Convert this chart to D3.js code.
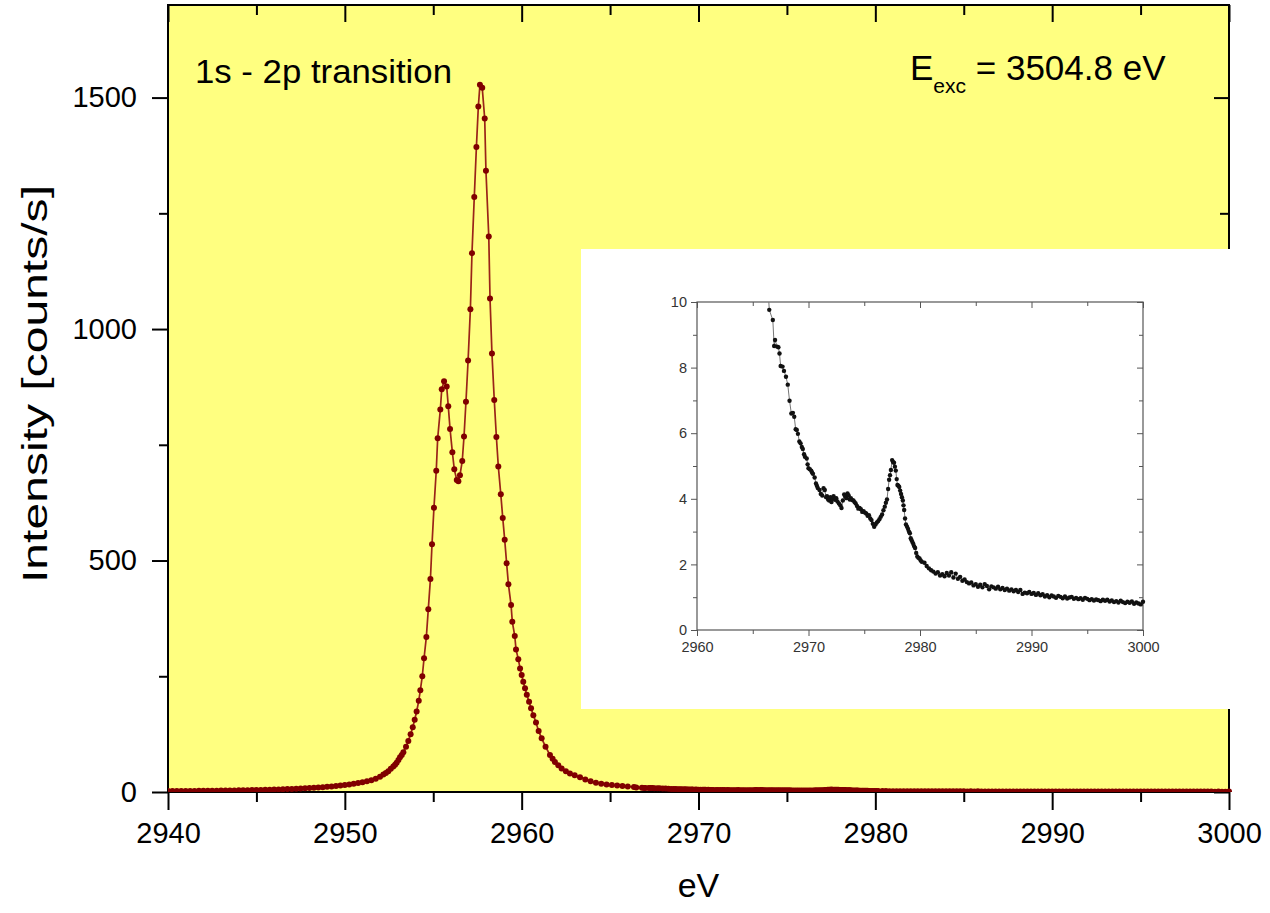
<!DOCTYPE html>
<html><head><meta charset="utf-8">
<script src="https://cdn.jsdelivr.net/npm/d3@7"></script>
<style>
body{margin:0;background:#fff}
svg{display:block}
text{font-family:"Liberation Sans",Arial,Helvetica,sans-serif}
</style></head><body>
<svg id="chart" width="1270" height="913"></svg>
<script>
// ---------- data ----------
const energy = [
2940.00,2940.25,2940.50,2940.75,2941.00,2941.25,2941.50,2941.75,2942.00,2942.25,2942.50,2942.75,
2943.00,2943.25,2943.50,2943.75,2944.00,2944.25,2944.50,2944.75,2945.00,2945.25,2945.50,2945.75,
2946.00,2946.25,2946.50,2946.75,2947.00,2947.25,2947.50,2947.75,2948.00,2948.25,2948.50,2948.75,
2949.00,2949.25,2949.50,2949.75,2950.00,2950.25,2950.50,2950.75,2951.00,2951.25,2951.50,2951.75,
2951.99,2952.18,2952.32,2952.46,2952.60,2952.74,2952.84,2952.93,2953.03,2953.12,2953.22,2953.31,
2953.46,2953.59,2953.72,2953.84,2953.95,2954.06,2954.18,2954.27,2954.38,2954.48,2954.61,2954.72,
2954.84,2954.93,2955.04,2955.17,2955.25,2955.40,2955.48,2955.61,2955.76,2955.85,2955.95,2956.08,
2956.19,2956.33,2956.42,2956.51,2956.64,2956.74,2956.85,2956.97,2957.10,2957.19,2957.32,2957.44,
2957.55,2957.64,2957.77,2957.91,2957.98,2958.14,2958.21,2958.32,2958.45,2958.57,2958.68,2958.82,
2958.93,2959.04,2959.15,2959.25,2959.40,2959.47,2959.61,2959.68,2959.81,2959.91,2960.00,2960.09,
2960.19,2960.29,2960.42,2960.53,2960.66,2960.81,2960.96,2961.13,2961.35,2961.60,2961.75,2961.88,
2962.07,2962.26,2962.50,2962.73,2963.00,2963.30,2963.60,2963.90,2964.20,2964.50,2964.80,2965.10,
2965.40,2965.70,2966.00,2966.35,
2966.48,2966.80,2966.92,2967.00,2967.19,2967.30,2967.40,2967.50,2967.67,2967.80,2967.98,2968.14,
2968.30,2968.46,2968.60,2968.72,2968.85,2968.95,2969.05,2969.18,2969.29,2969.40,2969.49,2969.60,
2969.68,2969.84,2969.92,2970.00,2970.12,2970.24,2970.32,2970.40,2970.55,2970.67,2970.75,2970.83,
2970.99,2971.10,2971.23,2971.35,2971.46,2971.58,2971.66,2971.76,2971.86,2971.96,2972.06,2972.16,
2972.25,2972.38,2972.49,2972.60,2972.73,2972.85,2972.96,2973.08,2973.20,2973.30,2973.40,2973.50,
2973.60,2973.70,2973.80,2973.92,2974.03,2974.13,2974.23,2974.35,2974.47,2974.58,2974.70,2974.82,
2974.94,2975.06,2975.18,2975.30,2975.42,2975.54,2975.65,2975.77,2975.89,2976.01,2976.13,2976.25,
2976.36,2976.48,2976.60,2976.72,2976.84,2976.94,2977.04,2977.14,2977.23,2977.31,2977.39,2977.50,
2977.58,2977.67,2977.75,2977.83,2977.91,2977.98,2978.06,2978.14,2978.22,2978.30,2978.38,2978.46,
2978.52,2978.58,2978.66,2978.74,2978.84,2978.93,2979.01,2979.09,2979.17,2979.25,2979.32,2979.40,
2979.48,2979.56,2979.66,2979.76,2979.86,2979.96,2980.06,2980.16,
2980.4,2980.6,2980.8,2981.0,2981.2,2981.4,2981.6,2981.8,2982.0,2982.2,2982.4,2982.6,2982.8,2983.0,
2983.2,2983.4,2983.6,2983.8,2984.0,2984.2,2984.4,2984.6,2984.8,2985.0,2985.2,2985.4,2985.6,2985.8,
2986.0,2986.2,2986.4,2986.6,2986.8,2987.0,2987.2,2987.4,2987.6,2987.8,2988.0,2988.2,2988.4,2988.6,
2988.8,2989.0,2989.2,2989.4,2989.6,2989.8,2990.0,2990.2,2990.4,2990.6,2990.8,2991.0,2991.2,2991.4,
2991.6,2991.8,2992.0,2992.2,2992.4,2992.6,2992.8,2993.0,2993.2,2993.4,2993.6,2993.8,2994.0,2994.2,
2994.4,2994.6,2994.8,2995.0,2995.2,2995.4,2995.6,2995.8,2996.0,2996.2,2996.4,2996.6,2996.8,2997.0,
2997.2,2997.4,2997.6,2997.8,2998.0,2998.2,2998.4,2998.6,2998.8,2999.0,2999.2,2999.4,2999.6,2999.8,
3000.0
];
const intensity = [
2.0,2.1,2.0,2.2,2.3,2.2,2.4,2.5,2.6,2.6,2.8,2.9,
3.0,3.1,3.3,3.4,3.6,3.7,3.9,4.1,4.3,4.5,4.8,5.0,
5.3,5.6,5.9,6.3,6.7,7.1,7.6,8.1,8.6,9.2,9.8,10.5,
11.3,12.1,13.0,14.0,15.1,16.3,17.7,19.2,21.0,23.0,25.3,28.5,
33,38,41,45,50,55,59,63,69,75,80,86,
98,110,125,140,156,174,197,220,250,289,335,395,
460,535,614,694,764,826,870,887,876,833,784,734,
697,674,671,684,715,768,843,932,1043,1164,1285,1393,
1481,1528,1521,1455,1342,1200,1066,947,847,767,703,643,
592,545,494,449,404,368,337,308,287,267,253,238,
224,210,195,181,166,150,132,116,98,80,72,65,
58,51,45,40,36,32,27,23,20,18,16.3,15.0,
13.8,12.8,12.0,10.6,
9.76,9.45,8.66,8.84,8.64,8.62,8.43,8.05,8.03,7.90,7.72,7.48,
6.99,6.60,6.62,6.50,6.12,6.10,5.98,5.75,5.69,5.58,5.52,5.36,
5.28,5.23,5.05,4.93,4.90,4.86,4.80,4.76,4.65,4.47,4.40,4.33,
4.27,4.15,4.10,4.32,4.27,4.05,4.08,3.98,3.95,4.05,3.90,4.00,
4.08,3.97,4.02,3.92,3.86,3.80,3.72,3.95,4.13,4.08,4.02,4.16,
4.10,3.98,4.02,3.96,3.95,3.90,3.86,3.78,3.70,3.72,3.68,3.60,
3.62,3.58,3.55,3.48,3.50,3.40,3.35,3.24,3.15,3.22,3.28,3.32,
3.38,3.45,3.52,3.65,3.76,3.88,3.98,4.30,4.58,4.72,4.88,5.18,
5.12,5.10,4.98,4.86,4.60,4.42,4.40,4.36,4.25,4.15,4.05,3.95,
3.80,3.66,3.40,3.22,3.15,3.08,3.00,2.95,2.80,2.74,2.68,2.62,
2.55,2.50,2.35,2.24,2.20,2.18,2.12,2.08,
2.05,1.95,1.88,1.82,1.78,1.72,1.76,1.66,1.70,1.64,1.74,1.66,1.76,1.60,
1.72,1.56,1.62,1.50,1.54,1.46,1.42,1.45,1.36,1.40,1.32,1.38,1.30,1.40,
1.34,1.24,1.33,1.30,1.26,1.32,1.24,1.28,1.22,1.26,1.20,1.24,1.18,1.22,
1.16,1.22,1.10,1.14,1.12,1.16,1.10,1.13,1.07,1.12,1.06,1.09,1.02,1.06,
1.00,1.05,1.02,0.98,1.04,1.01,0.97,1.02,0.96,0.99,1.01,0.95,0.98,0.94,
0.97,0.92,0.98,0.95,0.91,0.94,0.90,0.93,0.91,0.88,0.92,0.89,0.92,0.87,
0.90,0.85,0.88,0.84,0.89,0.85,0.82,0.86,0.83,0.87,0.80,0.84,0.81,0.78,
0.86
];
const mainXMajor = [2940,2950,2960,2970,2980,2990,3000];
const mainXMinor = [2945,2955,2965,2975,2985,2995];
const mainYMajor = [0,500,1000,1500];
const mainYMinor = [250,750,1250];
const insetXMajor = [2960,2970,2980,2990,3000];
const insetXMinor = [2965,2975,2985,2995];
const insetYMajor = [0,2,4,6,8,10];
const insetYMinor = [1,3,5,7,9];
const labelLeft = "1s - 2p transition";
const labelRightMain = "E";
const labelRightSub = "exc";
const labelRightTail = " = 3504.8 eV";
const xTitle = "eV";
const yTitle = "Intensity [counts/s]";

// ---------- drawing ----------
const points = energy.map((e,i)=>({e, v:intensity[i]}));
const svg = d3.select("#chart");
const M = {l:168, r:1229, t:5, b:792};
const x = d3.scaleLinear([2940,3000],[M.l,M.r]);
const y = d3.scaleLinear([0,1700],[M.b,M.t]);

svg.append("rect").attr("x",M.l).attr("y",M.t).attr("width",M.r-M.l).attr("height",M.b-M.t)
  .attr("fill","#ffff80");

function styleAxis(g, w){
  g.select(".domain").remove();
  g.selectAll(".tick line").attr("stroke","#000").attr("stroke-width",w);
}
const fs = 29;
const gb = svg.append("g").attr("transform",`translate(0,${M.b})`);
gb.call(d3.axisBottom(x).tickValues(mainXMajor).tickSize(18).tickPadding(12).tickFormat(d3.format("d")));
styleAxis(gb,2);
gb.selectAll("text").attr("font-size",fs).attr("fill","#000");
const gbm = svg.append("g").attr("transform",`translate(0,${M.b})`);
gbm.call(d3.axisBottom(x).tickValues(mainXMinor).tickSize(10).tickFormat(""));
styleAxis(gbm,2);
const gt = svg.append("g").attr("transform",`translate(0,${M.t})`);
gt.call(d3.axisTop(x).tickValues(mainXMajor).tickSize(-17).tickFormat(""));
styleAxis(gt,2);
const gtm = svg.append("g").attr("transform",`translate(0,${M.t})`);
gtm.call(d3.axisTop(x).tickValues(mainXMinor).tickSize(-10).tickFormat(""));
styleAxis(gtm,2);
const gl = svg.append("g").attr("transform",`translate(${M.l},0)`);
gl.call(d3.axisLeft(y).tickValues(mainYMajor).tickSize(16).tickPadding(15).tickFormat(d3.format("d")));
styleAxis(gl,2);
gl.selectAll("text").attr("font-size",fs).attr("fill","#000");
const glm = svg.append("g").attr("transform",`translate(${M.l},0)`);
glm.call(d3.axisLeft(y).tickValues(mainYMinor).tickSize(9).tickFormat(""));
styleAxis(glm,2);
const gr = svg.append("g").attr("transform",`translate(${M.r},0)`);
gr.call(d3.axisRight(y).tickValues(mainYMajor).tickSize(-15).tickFormat(""));
styleAxis(gr,2);
const grm = svg.append("g").attr("transform",`translate(${M.r},0)`);
grm.call(d3.axisRight(y).tickValues(mainYMinor).tickSize(-9).tickFormat(""));
styleAxis(grm,2);
svg.append("rect").attr("x",M.l).attr("y",M.t).attr("width",M.r-M.l).attr("height",M.b-M.t)
  .attr("fill","none").attr("stroke","#000").attr("stroke-width",2);

// main data
svg.append("clipPath").attr("id","mainClip").append("rect")
  .attr("x",M.l).attr("y",0).attr("width",M.r-M.l+3).attr("height",M.b);
const gd = svg.append("g").attr("clip-path","url(#mainClip)");
gd.append("path").datum(points)
  .attr("d", d3.line().x(d=>x(d.e)).y(d=>y(d.v)))
  .attr("fill","none").attr("stroke","#9a2418").attr("stroke-width",1.7);
gd.selectAll("circle").data(points).join("circle")
  .attr("cx",d=>x(d.e)).attr("cy",d=>y(d.v)).attr("r",3).attr("fill","#800000");

// annotations
svg.append("text").attr("x",195).attr("y",83).attr("font-size",34).attr("fill","#000")
  .attr("textLength",257).attr("lengthAdjust","spacingAndGlyphs").text(labelLeft);
const ann = svg.append("text").attr("x",910).attr("y",80).attr("font-size",35).attr("fill","#000");
ann.append("tspan").text(labelRightMain);
ann.append("tspan").attr("font-size",21).attr("dy",13).text(labelRightSub);
ann.append("tspan").attr("dy",-13).text(labelRightTail);

// axis titles
svg.append("text").attr("x",(M.l+M.r)/2).attr("y",897).attr("text-anchor","middle")
  .attr("font-size",34).attr("fill","#000").text(xTitle);
svg.append("text").attr("transform",`translate(47,384) rotate(-90)`)
  .attr("text-anchor","middle").attr("font-size",35).attr("fill","#000")
  .attr("textLength",398).attr("lengthAdjust","spacingAndGlyphs").text(yTitle);

// ---------- inset ----------
svg.append("rect").attr("x",581).attr("y",249).attr("width",652).attr("height",460).attr("fill","#fff");
const I = {l:697, r:1143, t:302, b:630};
const ix = d3.scaleLinear([2960,3000],[I.l,I.r]);
const iy = d3.scaleLinear([0,10],[I.b,I.t]);
const axc = "#555";
function iStyle(g){
  g.select(".domain").remove();
  g.selectAll(".tick line").attr("stroke",axc).attr("stroke-width",1);
  g.selectAll("text").attr("font-size",14.5).attr("fill","#333");
}
let g;
g = svg.append("g").attr("transform",`translate(0,${I.b})`);
g.call(d3.axisBottom(ix).tickValues(insetXMajor).tickSize(6).tickPadding(6).tickFormat(d3.format("d"))); iStyle(g);
g = svg.append("g").attr("transform",`translate(0,${I.b})`);
g.call(d3.axisBottom(ix).tickValues(insetXMinor).tickSize(4).tickFormat("")); iStyle(g);
g = svg.append("g").attr("transform",`translate(0,${I.t})`);
g.call(d3.axisTop(ix).tickValues(insetXMajor).tickSize(-6).tickFormat("")); iStyle(g);
g = svg.append("g").attr("transform",`translate(0,${I.t})`);
g.call(d3.axisTop(ix).tickValues(insetXMinor).tickSize(-4).tickFormat("")); iStyle(g);
g = svg.append("g").attr("transform",`translate(${I.l},0)`);
g.call(d3.axisLeft(iy).tickValues(insetYMajor).tickSize(6).tickPadding(4).tickFormat(d3.format("d"))); iStyle(g);
g = svg.append("g").attr("transform",`translate(${I.l},0)`);
g.call(d3.axisLeft(iy).tickValues(insetYMinor).tickSize(4).tickFormat("")); iStyle(g);
g = svg.append("g").attr("transform",`translate(${I.r},0)`);
g.call(d3.axisRight(iy).tickValues(insetYMajor).tickSize(-6).tickFormat("")); iStyle(g);
g = svg.append("g").attr("transform",`translate(${I.r},0)`);
g.call(d3.axisRight(iy).tickValues(insetYMinor).tickSize(-4).tickFormat("")); iStyle(g);
svg.append("rect").attr("x",I.l).attr("y",I.t).attr("width",I.r-I.l).attr("height",I.b-I.t)
  .attr("fill","none").attr("stroke",axc).attr("stroke-width",1.2);

svg.append("clipPath").attr("id","insetClip").append("rect")
  .attr("x",I.l).attr("y",I.t).attr("width",I.r-I.l+3).attr("height",I.b-I.t);
const gi = svg.append("g").attr("clip-path","url(#insetClip)");
const ipts = points.filter(d=>d.e>=2960);
gi.append("path").datum(ipts)
  .attr("d", d3.line().x(d=>ix(d.e)).y(d=>iy(d.v)))
  .attr("fill","none").attr("stroke","#777").attr("stroke-width",1);
gi.selectAll("circle").data(ipts.filter(d=>d.v<=10)).join("circle")
  .attr("cx",d=>ix(d.e)).attr("cy",d=>iy(d.v)).attr("r",2.2).attr("fill","#111");
</script>
</body></html>
